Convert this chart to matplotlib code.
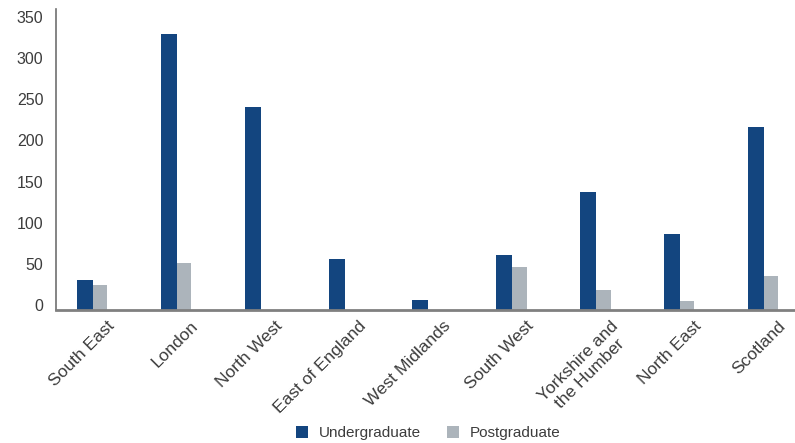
import matplotlib.pyplot as plt
import matplotlib.transforms as mtrans
import numpy as np

plt.rcParams['font.family'] = ['Liberation Sans', 'DejaVu Sans']

regions = ['South East', 'London', 'North West', 'East of England', 'West Midlands',
           'South West', 'Yorkshire and\nthe Humber', 'North East', 'Scotland']
undergrad = [36, 335, 247, 62, 12, 67, 144, 92, 222]
postgrad = [31, 57, 0, 0, 0, 52, 25, 11, 41]

navy = '#13457f'
grey = '#acb4bb'
txt = '#3c3c3c'

fig = plt.figure(figsize=(7.95, 4.43), dpi=100)
ax = fig.add_axes([0.0704, 0.300, 0.9296, 0.680])

index = np.arange(len(regions))
w = 0.19
ax.bar(index, undergrad, -w, align='edge', color=navy, label='Undergraduate')
ax.bar(index, postgrad, w * 0.9, align='edge', color=grey, label='Postgraduate')

ax.set_xlim(-0.44, 8.37)
ax.set_ylim(0, 366)
ax.set_yticks(np.arange(0, 351, 50))
ax.set_xticks(index)
ax.set_xticklabels(regions, rotation=45, ha='right', rotation_mode='anchor',
                   ma='center', fontsize=12.5, color=txt)
ax.tick_params(axis='y', length=0, labelsize=11.5, labelcolor=txt, pad=9)
ax.tick_params(axis='x', length=0, pad=6)

# shift labels a little, as in the original layout
for lab in ax.get_xticklabels():
    lab.set_transform(lab.get_transform() + mtrans.ScaledTranslation(14 / 100, 0, fig.dpi_scale_trans))
for lab in ax.get_yticklabels():
    lab.set_transform(lab.get_transform() + mtrans.ScaledTranslation(0, 5 / 100, fig.dpi_scale_trans))

for s in ['top', 'right']:
    ax.spines[s].set_visible(False)
ax.spines['left'].set_color('#707070')
ax.spines['left'].set_linewidth(1.2)
ax.spines['bottom'].set_color('#808080')
ax.spines['bottom'].set_linewidth(2)

fig.legend(loc='center', bbox_to_anchor=(0.539, 0.022), ncol=2, frameon=False,
           fontsize=11, labelcolor=txt, handlelength=0.8, handleheight=0.8,
           columnspacing=1.7, handletextpad=0.7)

plt.savefig('out.png', dpi=100)
